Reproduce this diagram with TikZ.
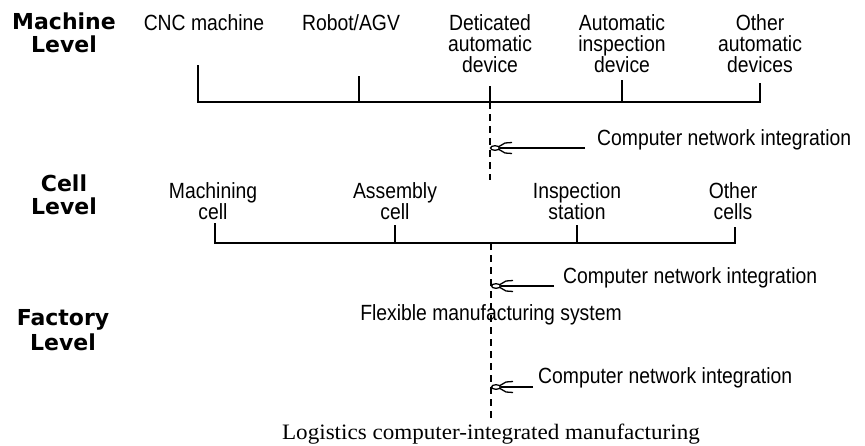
\documentclass[tikz,border=0pt]{standalone}
\usepackage{fontspec}
\setmainfont{Liberation Sans}[FakeStretch=0.88]
\newfontfamily\levelfont{DejaVu Sans}
\newfontfamily\captionserif{Liberation Serif}[FakeStretch=1.05]
\begin{document}
\begin{tikzpicture}[x=1pt,y=-1pt,
  every node/.style={inner sep=0pt},
  item/.style={font=\fontsize{22}{21}\selectfont, align=center, anchor=north},
  level/.style={font=\levelfont\bfseries\fontsize{22}{22.5}\selectfont, align=center, anchor=north},
  note/.style={font=\fontsize{22}{21}\selectfont, anchor=base west},
  title/.style={font=\fontsize{22}{21}\selectfont, anchor=base},
  wire/.style={line width=1.3pt},
  link/.style={line width=1.3pt, dash pattern=on 7pt off 5pt},
  plugline/.style={line width=1.3pt, shorten >=10pt},
  plug/.pic={
    \draw[line width=1.3pt] (5,0) ellipse (4.5 and 2.3);
    \draw[line width=1.3pt] (9,-1.5) -- (15,-5) -- (22,-5.5);
    \draw[line width=1.3pt] (9,1.5) -- (15,5) -- (22,5.5);
  }]
\useasboundingbox[fill=white] (0,0) rectangle (865,445);

% ---------------- machine level ----------------
\node[level] (lm) at (64,13) {Machine\\Level};
\node[item] (cnc)   at (204,14) {CNC machine};
\node[item] (robot) at (351,14) {Robot/AGV};
\node[item] (ded)   at (490,14) {Deticated\\automatic\\device};
\node[item] (insp)  at (622,14) {Automatic\\inspection\\device};
\node[item] (other) at (760,14) {Other\\automatic\\devices};

\coordinate (ta1) at (198,65);
\coordinate (ta2) at (359,76);
\coordinate (ta3) at (490,86);
\coordinate (ta4) at (622,80);
\coordinate (ta5) at (760,83);
\coordinate (b1a) at (198,102);
\coordinate (b1b) at (760,102);
\draw[wire] (ta1) -- (b1a) -- (b1b) -- (ta5);
\foreach \t in {ta2,ta3,ta4} \draw[wire] (\t) -- (\t |- b1a);

\coordinate (j1)  at (490,102);
\coordinate (j1e) at (490,180);
\draw[link] (j1) -- (j1e);

\node[note] (n1) at (597,145) {Computer network integration};
\coordinate (e1) at (585,148);
\coordinate (p1) at (490,148);
\draw[plugline] (e1) -- (p1);
\pic at (p1) {plug};

% ---------------- cell level ----------------
\node[level] (lc) at (64,175) {Cell\\Level};
\node[item] (mc) at (213,182) {Machining\\cell};
\node[item] (ac) at (395,182) {Assembly\\cell};
\node[item] (is) at (577,182) {Inspection\\station};
\node[item] (oc) at (733,182) {Other\\cells};

\coordinate (tb1) at (215,223);
\coordinate (tb2) at (395,225);
\coordinate (tb3) at (577,225);
\coordinate (tb4) at (735,227);
\coordinate (b2a) at (215,243);
\coordinate (b2b) at (735,243);
\draw[wire] (tb1) -- (b2a) -- (b2b) -- (tb4);
\foreach \t in {tb2,tb3} \draw[wire] (\t) -- (\t |- b2a);

\coordinate (j2)  at (491,243);
\coordinate (j2e) at (491,418);
\draw[link] (j2) -- (j2e);

\node[note] (n2) at (563,283) {Computer network integration};
\coordinate (e2) at (554,286);
\coordinate (p2) at (491,286);
\draw[plugline] (e2) -- (p2);
\pic at (p2) {plug};

% ---------------- factory level ----------------
\node[level] (lf) at (63,309) {Factory\\[3pt]Level};
\node[title] (fms) at (491,320) {Flexible manufacturing system};

\node[note] (n3) at (538,383) {Computer network integration};
\coordinate (e3) at (533,387);
\coordinate (p3) at (491,387);
\draw[plugline] (e3) -- (p3);
\pic at (p3) {plug};

\node[anchor=base, font=\captionserif\fontsize{22}{22}\selectfont] (cim) at (491,439)
  {Logistics computer-integrated manufacturing};
\end{tikzpicture}
\end{document}
